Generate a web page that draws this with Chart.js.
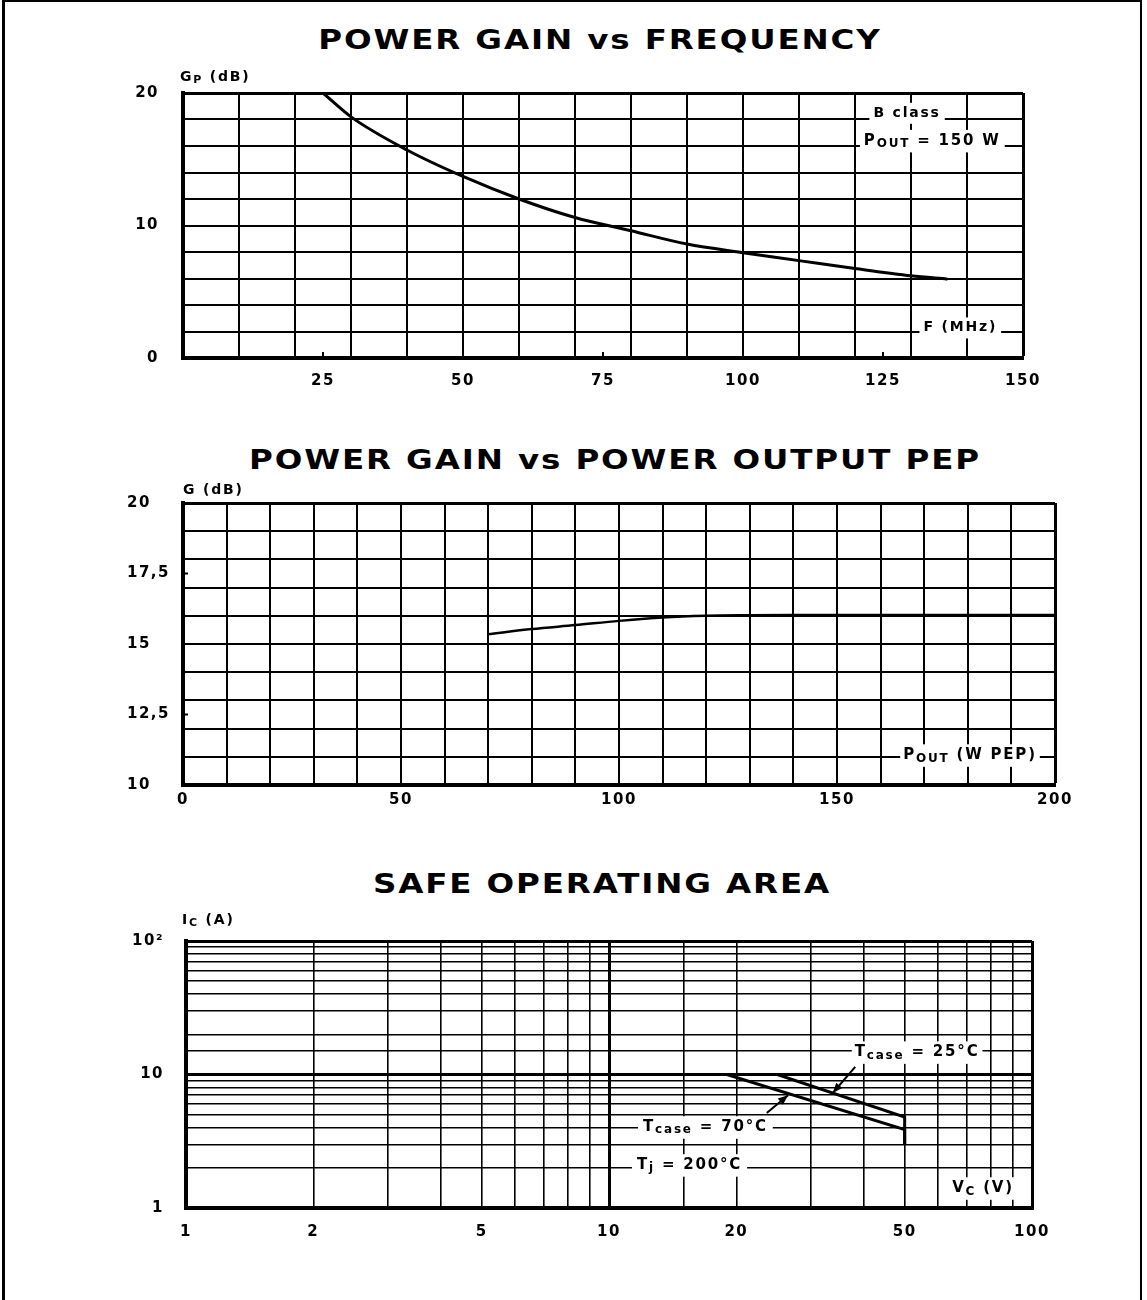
<!DOCTYPE html>
<html><head><meta charset="utf-8">
<script src="https://cdn.jsdelivr.net/npm/chart.js@4.4.0/dist/chart.umd.min.js"></script>
<style>
html,body{margin:0;padding:0;background:#fff;}
body{width:1147px;height:1300px;position:relative;overflow:hidden;font-family:"DejaVu Sans",sans-serif;}
.frame{position:absolute;left:2px;top:0;width:1135px;height:1400px;border-left:3px solid #000;border-top:2px solid #000;border-right:2px solid #000;}
.title{position:absolute;white-space:nowrap;transform:translateX(-50%) scaleX(1.25);font-weight:bold;font-size:26px;letter-spacing:1.5px;line-height:30px;color:#000;}
canvas{position:absolute;left:0;}
</style></head>
<body>
<div class="frame"></div>
<div class="title" style="left:600px;top:25px">POWER GAIN vs FREQUENCY</div>
<div class="title" style="left:615px;top:445px">POWER GAIN vs POWER OUTPUT PEP</div>
<div class="title" style="left:602px;top:869px">SAFE OPERATING AREA</div>
<canvas id="c1" width="1147" height="340" style="top:60px"></canvas>
<canvas id="c2" width="1147" height="340" style="top:475px"></canvas>
<canvas id="c3" width="1147" height="360" style="top:900px"></canvas>
<script>
// ---------- DATA ----------
const freqMHz      = [25, 30, 40, 50, 60, 70, 80, 90, 100, 110, 120, 130, 136.5];
const gainFreq_dB  = [20, 18.2, 15.7, 13.7, 12.0, 10.6, 9.6, 8.6, 7.95, 7.35, 6.75, 6.2, 5.95];
const freqTickLabels = [25, 50, 75, 100, 125, 150];
const gainFreqTickLabels = [0, 10, 20];

const poutW        = [70, 80, 90, 100, 110, 120, 130, 140, 150, 160, 170, 180, 190, 200];
const gainPout_dB  = [15.35, 15.53, 15.67, 15.82, 15.94, 16.0, 16.02, 16.03, 16.03, 16.03, 16.03, 16.03, 16.03, 16.03];
const poutTickLabels = [0, 50, 100, 150, 200];
const gainPoutTickLabels = [10, 12.5, 15, 17.5, 20];

const vc25 = [1, 25, 50, 50];
const ic25 = [10, 10, 4.8, 3.0];
const vc70 = [1, 19, 50, 50];
const ic70 = [10, 10, 3.86, 3.0];
const vcTickLabels = [1, 2, 5, 10, 20, 50, 100];
const icTickLabels = [1, 10, 100];

// ---------- HELPERS ----------
const FONT = "'DejaVu Sans', 'Liberation Sans', sans-serif";
const tickFont = {family: FONT, size: 15, weight: 'bold'};
const near = (a, b) => Math.abs(a - b) < 1e-6 * Math.max(1, Math.abs(b));
const inList = (v, list) => list.some(t => near(v, t));

function drawRich(ctx, parts, x0, cy, size, align, box) {
  const ms = [];
  let total = 0;
  for (const p of parts) {
    const s = p.sub ? Math.round(size * 0.8) : (p.sup ? Math.round(size * 0.75) : size);
    ctx.font = `bold ${s}px ${FONT}`;
    const w = ctx.measureText(p.t).width;
    ms.push({s, w}); total += w;
  }
  let x = align === 'left' ? x0 : x0 - total / 2;
  if (box) {
    ctx.fillStyle = '#fff';
    ctx.fillRect(x - box, cy - size * 0.72, total + 2 * box, size * 1.5);
  }
  ctx.fillStyle = '#000';
  ctx.textBaseline = 'middle';
  ctx.textAlign = 'left';
  parts.forEach((p, i) => {
    ctx.font = `bold ${ms[i].s}px ${FONT}`;
    ctx.fillText(p.t, x, cy + (p.sub ? size * 0.22 : 0));
    x += ms[i].w;
  });
}

const notesPlugin = {
  id: 'notes',
  beforeDraw(chart) { chart.ctx.letterSpacing = '1.5px'; },
  afterDatasetsDraw(chart, args, opts) {
    const ctx = chart.ctx, xs = chart.scales.x, ys = chart.scales.y, ca = chart.chartArea;
    ctx.save();
    ctx.letterSpacing = '1.8px';
    (opts.innerTicks || []).forEach(t => {
      ctx.strokeStyle = '#000'; ctx.lineWidth = 2;
      t.values.forEach(v => {
        ctx.beginPath();
        if (t.axis === 'x') { const px = xs.getPixelForValue(v); ctx.moveTo(px, ca.bottom); ctx.lineTo(px, ca.bottom - t.len); }
        else { const py = ys.getPixelForValue(v); ctx.moveTo(ca.left, py); ctx.lineTo(ca.left + t.len, py); }
        ctx.stroke();
      });
    });
    (opts.texts || []).forEach(t => {
      let px, py, align = 'center';
      if (t.rel) { px = ca.left + t.dx; py = ca.top + t.dy; align = 'left'; }
      else { px = xs.getPixelForValue(t.x); py = ys.getPixelForValue(t.y); }
      drawRich(ctx, t.parts, px, py, t.size || 15, align, t.box || 0);
    });
    (opts.arrows || []).forEach(a => {
      const x1 = xs.getPixelForValue(a.x1), y1 = ys.getPixelForValue(a.y1);
      const x2 = xs.getPixelForValue(a.x2), y2 = ys.getPixelForValue(a.y2);
      ctx.strokeStyle = '#000'; ctx.fillStyle = '#000'; ctx.lineWidth = 2;
      ctx.beginPath(); ctx.moveTo(x1, y1); ctx.lineTo(x2, y2); ctx.stroke();
      const ang = Math.atan2(y2 - y1, x2 - x1), L = 10, W = 4;
      ctx.beginPath();
      ctx.moveTo(x2, y2);
      ctx.lineTo(x2 - L * Math.cos(ang) + W * Math.sin(ang), y2 - L * Math.sin(ang) - W * Math.cos(ang));
      ctx.lineTo(x2 - L * Math.cos(ang) - W * Math.sin(ang), y2 - L * Math.sin(ang) + W * Math.cos(ang));
      ctx.closePath(); ctx.fill();
    });
    ctx.restore();
  }
};

const baseOptions = (padding) => ({
  responsive: false, animation: false, devicePixelRatio: 1,
  layout: {padding},
  events: [],
});
const lineDS = (xs, ys, w, extra) => Object.assign({
  data: xs.map((x, i) => ({x, y: ys[i]})),
  showLine: true, borderColor: '#000', backgroundColor: '#000', borderWidth: w,
  pointRadius: 0, fill: false, tension: 0
}, extra || {});

// ---------- CHART 1 : power gain vs frequency ----------
new Chart(document.getElementById('c1'), {
  type: 'scatter',
  data: {datasets: [lineDS(freqMHz, gainFreq_dB, 3, {cubicInterpolationMode: 'monotone'})]},
  options: Object.assign(baseOptions({left: 0, right: 124, top: 28, bottom: 12}), {
    plugins: {
      legend: {display: false}, tooltip: {enabled: false},
      notes: {
        innerTicks: [{axis: 'x', values: freqTickLabels.filter(v => v % 10 !== 0), len: 6}],
        texts: [
          {x: 129.3, y: 18.5, parts: [{t: 'B class'}], box: 4, size: 14},
          {x: 133.8, y: 16.4, parts: [{t: 'P'}, {t: 'OUT', sub: true}, {t: ' = 150 W'}], box: 4},
          {x: 138.8, y: 2.3, parts: [{t: 'F (MHz)'}], box: 4, size: 14},
          {rel: true, dx: -3, dy: -16, size: 14, parts: [{t: 'G'}, {t: 'P', sub: true}, {t: ' (dB)'}]}
        ]
      }
    },
    scales: {
      x: {type: 'linear', min: 0, max: 150, afterFit: s => { s.height = 30; },
        border: {display: true, color: '#000', width: 4},
        grid: {drawTicks: false,
          color: c => (c.tick && near(c.tick.value % 10, 0)) ? '#000' : 'rgba(0,0,0,0)',
          lineWidth: c => (c.tick && c.tick.value === 150) ? 3 : 2},
        ticks: {stepSize: 5, autoSkip: false, maxRotation: 0, padding: 14, color: '#000', font: tickFont,
          callback: v => inList(v, freqTickLabels) ? String(v) : ''}},
      y: {type: 'linear', min: 0, max: 20, afterFit: s => { s.width = 183; },
        border: {display: true, color: '#000', width: 4},
        grid: {drawTicks: false, color: '#000', lineWidth: c => (c.tick && c.tick.value === 20) ? 3 : 2},
        ticks: {stepSize: 2, autoSkip: false, padding: 24, color: '#000', font: tickFont,
          callback: v => inList(v, gainFreqTickLabels) ? String(v) : ''}}
    }
  }),
  plugins: [notesPlugin]
});

// ---------- CHART 2 : power gain vs power output ----------
new Chart(document.getElementById('c2'), {
  type: 'scatter',
  data: {datasets: [lineDS(poutW, gainPout_dB, 2.5, {cubicInterpolationMode: 'monotone'})]},
  options: Object.assign(baseOptions({left: 127, right: 92, top: 28, bottom: 0}), {
    plugins: {
      legend: {display: false}, tooltip: {enabled: false},
      notes: {
        innerTicks: [{axis: 'y', values: gainPoutTickLabels.filter(v => v % 1 !== 0), len: 5}],
        texts: [
          {x: 180.5, y: 11.06, parts: [{t: 'P'}, {t: 'OUT', sub: true}, {t: ' (W PEP)'}], box: 3},
          {rel: true, dx: 0, dy: -13, size: 14, parts: [{t: 'G (dB)'}]}
        ]
      }
    },
    scales: {
      x: {type: 'linear', min: 0, max: 200, afterFit: s => { s.height = 30; },
        border: {display: true, color: '#000', width: 4},
        grid: {drawTicks: false, color: '#000', lineWidth: c => (c.tick && c.tick.value === 200) ? 3 : 2},
        ticks: {stepSize: 10, autoSkip: false, maxRotation: 0, padding: 6, color: '#000', font: tickFont,
          callback: v => inList(v, poutTickLabels) ? String(v) : ''}},
      y: {type: 'linear', min: 10, max: 20, afterFit: s => { s.width = 56; },
        border: {display: true, color: '#000', width: 4},
        grid: {drawTicks: false,
          color: c => (c.tick && near(c.tick.value % 1, 0)) ? '#000' : 'rgba(0,0,0,0)',
          lineWidth: c => (c.tick && c.tick.value === 20) ? 3 : 2},
        ticks: {stepSize: 0.5, autoSkip: false, crossAlign: 'far', padding: 0, color: '#000', font: tickFont,
          callback: v => inList(v, gainPoutTickLabels) ? String(v).replace('.', ',') : ''}}
    }
  }),
  plugins: [notesPlugin]
});

// ---------- CHART 3 : safe operating area ----------
const isDecade = v => inList(v, [1, 10, 100]);
new Chart(document.getElementById('c3'), {
  type: 'scatter',
  data: {datasets: [lineDS(vc25, ic25, 3), lineDS(vc70, ic70, 3)]},
  options: Object.assign(baseOptions({left: 0, right: 115, top: 41, bottom: 12}), {
    plugins: {
      legend: {display: false}, tooltip: {enabled: false},
      notes: {
        texts: [
          {x: 53.5, y: 14.7, parts: [{t: 'T'}, {t: 'case', sub: true}, {t: ' = 25°C'}], box: 3},
          {x: 16.9, y: 4.04, parts: [{t: 'T'}, {t: 'case', sub: true}, {t: ' = 70°C'}], box: 5},
          {x: 15.5, y: 2.1, parts: [{t: 'T'}, {t: 'j', sub: true}, {t: ' = 200°C'}], box: 5},
          {x: 76.6, y: 1.41, parts: [{t: 'V'}, {t: 'C', sub: true}, {t: ' (V)'}], box: 4},
          {rel: true, dx: -4, dy: -21, size: 14, parts: [{t: 'I'}, {t: 'C', sub: true}, {t: ' (A)'}]}
        ],
        arrows: [
          {x1: 38.2, y1: 11.4, x2: 33.8, y2: 7.27},
          {x1: 23.6, y1: 5.15, x2: 26.5, y2: 7.0}
        ]
      }
    },
    scales: {
      x: {type: 'logarithmic', min: 1, max: 100, afterFit: s => { s.height = 40; },
        border: {display: true, color: '#000', width: 4},
        grid: {drawTicks: false, color: '#000', lineWidth: c => (c.tick && isDecade(c.tick.value)) ? 3 : 1.6},
        ticks: {autoSkip: false, maxRotation: 0, padding: 15, color: '#000', font: tickFont,
          callback: v => inList(v, vcTickLabels) ? String(Math.round(v)) : ''}},
      y: {type: 'logarithmic', min: 1, max: 100, afterFit: s => { s.width = 186; },
        border: {display: true, color: '#000', width: 4},
        grid: {drawTicks: false, color: '#000', lineWidth: c => (c.tick && isDecade(c.tick.value)) ? 3 : 1.6},
        ticks: {autoSkip: false, padding: 22, color: '#000', font: tickFont,
          callback: v => inList(v, icTickLabels) ? (near(v, 100) ? '10²' : String(Math.round(v))) : ''}}
    }
  }),
  plugins: [notesPlugin]
});
</script>
</body></html>
